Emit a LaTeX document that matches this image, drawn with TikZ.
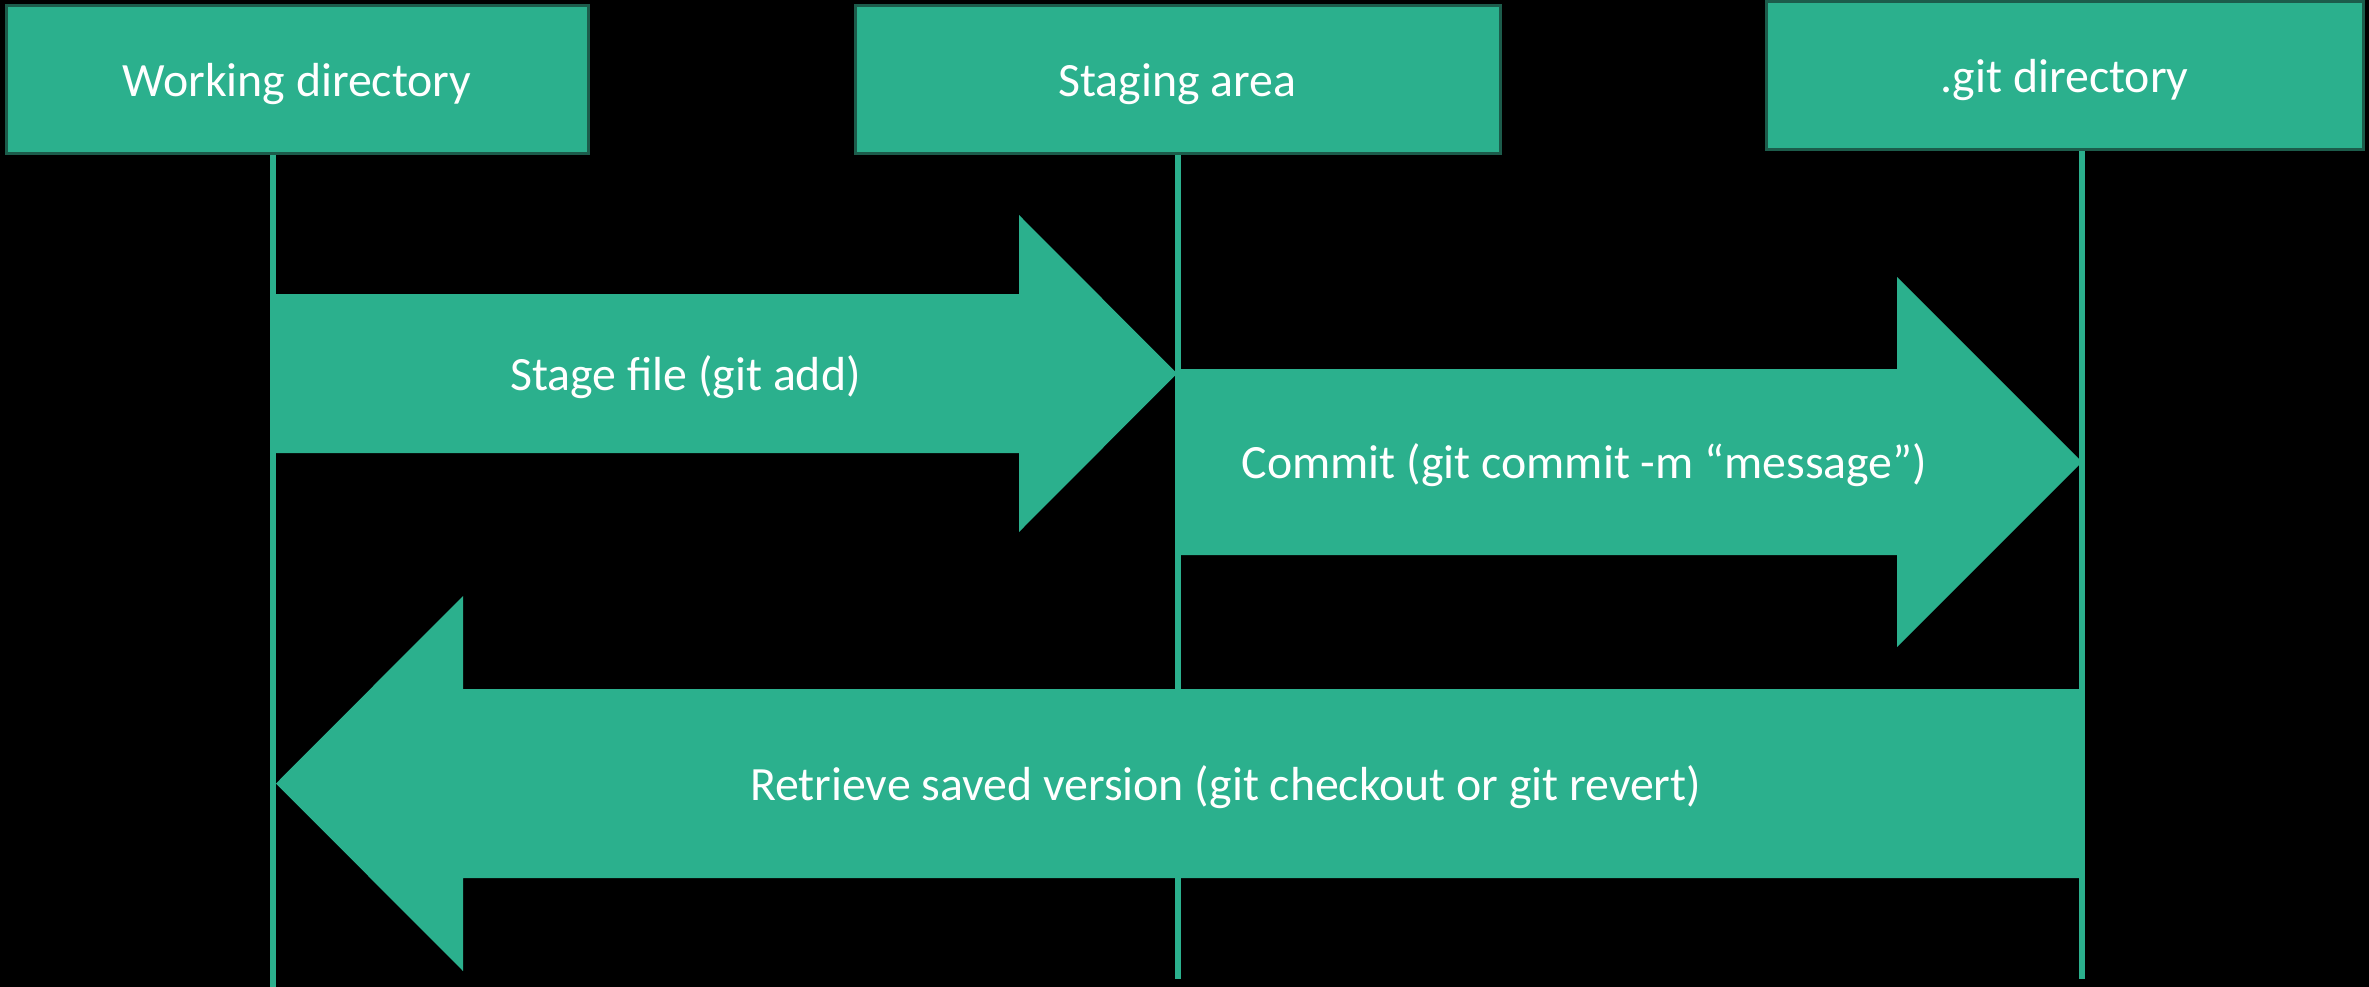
\documentclass[tikz,border=0pt]{standalone}
\usepackage{fontspec}
\setmainfont{Carlito}
\definecolor{gfill}{HTML}{2BB08D}
\definecolor{gedge}{HTML}{1C5C4B}
\begin{document}
\begin{tikzpicture}[x=1pt,y=-1pt,
  lbl/.style={text=white, font=\fontsize{47.8}{57}\selectfont, inner sep=0pt},
  box/.style={lbl, draw=gedge, line width=3pt, fill=gfill, text height=40pt, text depth=6pt},
  life/.style={draw=gfill, line width=5.5pt},
  blockarrow/.style={fill=gfill}]
\useasboundingbox[fill=black] (0,0) rectangle (2369,987);

% lifeline ends
\coordinate (e1) at (273,987);
\coordinate (e2) at (1178,979);
\coordinate (e3) at (2082,979);

% boxes
\node[box, minimum width=582pt, minimum height=148pt] (wd) at (297,80) {Working directory};
\node[box, minimum width=645pt, minimum height=148pt] (sa) at (1177.5,80) {Staging area};
\node[box, minimum width=597pt, minimum height=148pt] (gd) at (2064.5,76) {.git directory};

% lifelines
\draw[life] (wd.south -| e1) -- (e1);
\draw[life] (sa.south -| e2) -- (e2);
\draw[life] (gd.south -| e3) -- (e3);

% block arrows
\fill[blockarrow] (273,294) -- (1019,294) -- (1019,215) -- (1177,373.5)
  -- (1019,532) -- (1019,453) -- (273,453) -- cycle;
\fill[blockarrow] (1177,369) -- (1897,369) -- (1897,277) -- (2082,462)
  -- (1897,647) -- (1897,555) -- (1177,555) -- cycle;
\fill[blockarrow] (2082,689) -- (463,689) -- (463,596) -- (276,783.5)
  -- (463,971) -- (463,878) -- (2082,878) -- cycle;

% arrow labels
\node[lbl, anchor=base] (l1) at (685.5,390) {Stage file (git add)};
\node[lbl, anchor=base] (l2) at (1584.5,478) {Commit (git commit -m “message”)};
\node[lbl, anchor=base] (l3) at (1225.5,800) {Retrieve saved version (git checkout or git revert)};
\end{tikzpicture}
\end{document}
